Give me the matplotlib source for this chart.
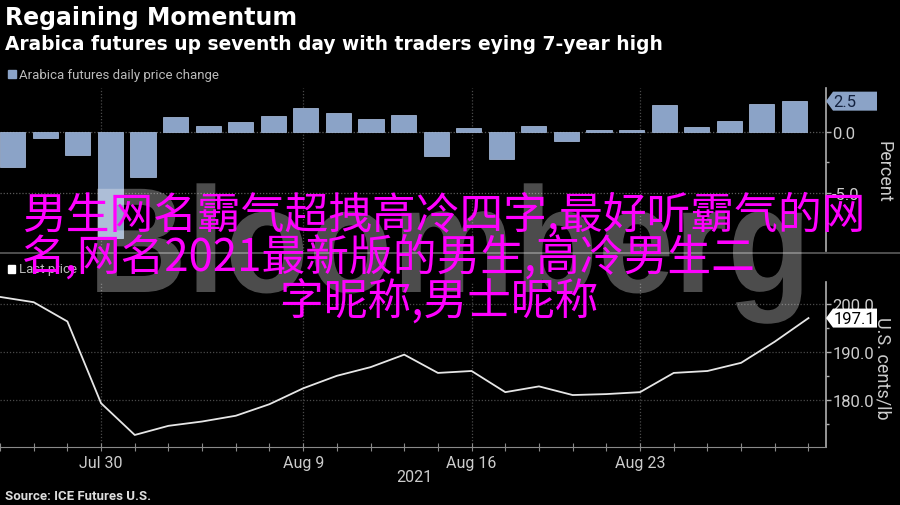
import matplotlib
matplotlib.use("Agg")
import matplotlib.pyplot as plt
import matplotlib.transforms as mtransforms
from matplotlib.patches import Polygon, Rectangle, PathPatch
from matplotlib.lines import Line2D
from matplotlib.textpath import TextPath
from matplotlib.font_manager import FontProperties
from matplotlib.ticker import MultipleLocator, FuncFormatter

# =========================
# data
# =========================
dates = ["Jul 27", "Jul 28", "Jul 29", "Jul 30", "Aug 2", "Aug 3", "Aug 4", "Aug 5",
         "Aug 6", "Aug 9", "Aug 10", "Aug 11", "Aug 12", "Aug 13", "Aug 16", "Aug 17",
         "Aug 18", "Aug 19", "Aug 20", "Aug 23", "Aug 24", "Aug 25", "Aug 26", "Aug 27",
         "Aug 30"]
label_dates = ["Jul 30", "Aug 9", "Aug 16", "Aug 23"]

# daily price change, percent
change = [-2.9, -0.55, -1.9, -8.7, -3.7, 1.2, 0.5, 0.75, 1.25, 1.95, 1.5, 1.05, 1.4,
          -2.0, 0.28, -2.25, 0.5, -0.8, 0.12, 0.1, 2.2, 0.35, 0.9, 2.25, 2.5]
# last price, U.S. cents/lb
price = [201.5, 200.4, 196.4, 179.4, 172.8, 174.7, 175.6, 176.8, 179.2, 182.5, 185.1,
         186.9, 189.5, 185.7, 186.1, 181.7, 182.9, 181.1, 181.3, 181.7, 185.7, 186.1,
         187.8, 192.2, 197.1]

overlay_lines = ["男生网名霸气超拽高冷四字,最好听霸气的网",
                 "名,网名2021最新版的男生,高冷男生二",
                 "字昵称,男士昵称"]

BG = "black"
BAR = "#8ba3c7"
GRID = "#4a4a4a"
AXIS = "#b0b0b0"
TXT = "#cccccc"
FONT = "Roboto"

W, H = 900, 506
fig = plt.figure(figsize=(W / 100, H / 100), dpi=100, facecolor=BG)


def fx(px):
    return px / W


def fy(py):
    return 1 - py / H


ax1 = fig.add_axes([0, fy(252), fx(826), (252 - 89) / H], facecolor=BG)
ax2 = fig.add_axes([0, fy(448), fx(826), (448 - 283) / H], facecolor=BG)

pos = list(range(len(dates)))
label_pos = [dates.index(d) for d in label_dates]

# =========================
# top: bars
# =========================
ax1.bar(pos, change, width=0.77, color=BAR, edgecolor="#9fb3d2", linewidth=0.6, zorder=3)
ax1.set_xlim(-0.39, 24.97)
ax1.set_ylim(-9.8, 3.58)
ax1.yaxis.set_major_locator(MultipleLocator(5))
ax1.yaxis.set_minor_locator(MultipleLocator(2.5))
ax1.yaxis.set_major_formatter(FuncFormatter(lambda v, p: f"{v:.1f}"))
ax1.set_xticks([])
ax1.yaxis.tick_right()
for y in (0, -5):
    ax1.axhline(y, color="#5a5a5a", lw=0.9, ls=(0, (1, 1.5)), zorder=1)

# vertical grid shares the bottom panel's date positions
vtrans = mtransforms.blended_transform_factory(ax2.transData, ax1.transAxes)
for p in label_pos:
    ax1.plot([p, p], [0, 1], transform=vtrans, color=GRID, lw=0.9, ls=(0, (1, 1.5)), zorder=1)

# =========================
# bottom: line
# =========================
ax2.plot(pos, price, color="#e6e6e6", lw=1.3, zorder=3)
ax2.set_xlim(0, 24.52)
ax2.set_ylim(170.3, 204.6)
ax2.yaxis.set_major_locator(MultipleLocator(10))
ax2.yaxis.set_minor_locator(MultipleLocator(5))
ax2.yaxis.set_major_formatter(FuncFormatter(lambda v, p: f"{v:.1f}"))
ax2.yaxis.tick_right()
ax2.set_xticks(pos, [d if d in label_dates else "" for d in dates])
for y in (180, 190, 200):
    ax2.axhline(y, color=GRID, lw=0.9, ls=(0, (1, 1.5)), zorder=1)
for p in label_pos:
    ax2.axvline(p, color=GRID, lw=0.9, ls=(0, (1, 1.5)), zorder=1)

for ax in (ax1, ax2):
    for s in ("top", "left", "bottom"):
        ax.spines[s].set_visible(False)
    ax.spines["right"].set_color(AXIS)
    ax.spines["right"].set_linewidth(1.2)
    ax.tick_params(axis="y", which="major", colors=AXIS, length=3.5, width=1,
                   pad=1, labelsize=12, labelcolor=TXT)
    ax.tick_params(axis="y", which="minor", colors=AXIS, length=2.5, width=1)
    for t in ax.get_yticklabels():
        t.set_fontfamily(FONT)

ax2.spines["bottom"].set_visible(True)
ax2.spines["bottom"].set_color("#8a8a8a")
ax2.tick_params(axis="x", colors="#8a8a8a", direction="inout", length=6, width=0.8,
                pad=3, labelsize=11.5, labelcolor=TXT)
for t in ax2.get_xticklabels():
    t.set_fontfamily(FONT)

# panel separator
fig.add_artist(Line2D([0, 1], [fy(254), fy(254)], color="#5c5c5c", lw=1.2))


# last value tags
def value_tag(ax, value, text, face, fg):
    blend = mtransforms.blended_transform_factory(ax.transAxes, ax.transData)
    x0, y0 = blend.transform((1.0, value)) / fig.dpi
    pts = [(0, 0), (7, 9.5), (51, 9.5), (51, -9.5), (7, -9.5)]
    verts = [(x0 + a / 100, y0 + b / 100) for a, b in pts]
    fig.add_artist(Polygon(verts, closed=True, facecolor=face, edgecolor="none",
                           transform=fig.dpi_scale_trans, zorder=6))
    fig.text(x0 + 0.075, y0, text, transform=fig.dpi_scale_trans, ha="left",
             va="center", color=fg, fontsize=12, family=FONT, zorder=7)


value_tag(ax1, change[-1], f"{change[-1]:.1f}", BAR, "#14223f")
value_tag(ax2, price[-1], f"{price[-1]:.1f}", "white", "black")

# =========================
# texts
# =========================
fig.text(fx(5), fy(18), "Regaining Momentum", color="white", fontsize=17,
         fontweight="bold", family="DejaVu Sans", va="center", ha="left")
fig.text(fx(5), fy(45), "Arabica futures up seventh day with traders eying 7-year high",
         color="white", fontsize=13.4, fontweight="bold", family="DejaVu Sans",
         va="center", ha="left")

fig.add_artist(Rectangle((fx(8), fy(79)), fx(8), 8 / H, color=BAR))
fig.text(fx(19), fy(75), "Arabica futures daily price change", color="#bbbbbb",
         fontsize=9.5, family=FONT, va="center", ha="left")
fig.add_artist(Rectangle((fx(8), fy(274)), fx(7), 8 / H, color="white"))
fig.text(fx(19), fy(270), "Last price", color="#bbbbbb", fontsize=9.5, family=FONT,
         va="center", ha="left")

fig.text(fx(883), fy(172), "Percent", rotation=270, color=TXT, fontsize=13,
         family=FONT, va="center", ha="center")
fig.text(fx(883), fy(368), "U.S. cents/lb", rotation=270, color=TXT, fontsize=13,
         family=FONT, va="center", ha="center")
fig.text(fx(414), fy(478), "2021", color=TXT, fontsize=11.5, family=FONT,
         va="center", ha="center")
fig.text(fx(5), fy(497), "Source: ICE Futures U.S.", color="#dddddd", fontsize=9.5,
         fontweight="bold", family=FONT, va="center", ha="left")

# watermark
tp = TextPath((0, 0), "Bloomberg", size=1,
              prop=FontProperties(family="Liberation Sans", weight="bold"))
wm = mtransforms.Affine2D().scale(1.37, 1.5).translate(0.88, (H - 293) / 100)
fig.add_artist(PathPatch(tp, transform=wm + fig.dpi_scale_trans, facecolor="#ffffff4d",
                         edgecolor="none", zorder=4))

# overlay
for txt, x, y in zip(overlay_lines, (22, 22, 280), (216, 258, 302)):
    fig.text(fx(x), fy(y), txt, color="#ff00ff", fontsize=31.5,
             family=["Noto Sans CJK SC", "DejaVu Sans"], va="center", ha="left",
             zorder=8)

fig.savefig("out.png", dpi=100, facecolor=BG)
